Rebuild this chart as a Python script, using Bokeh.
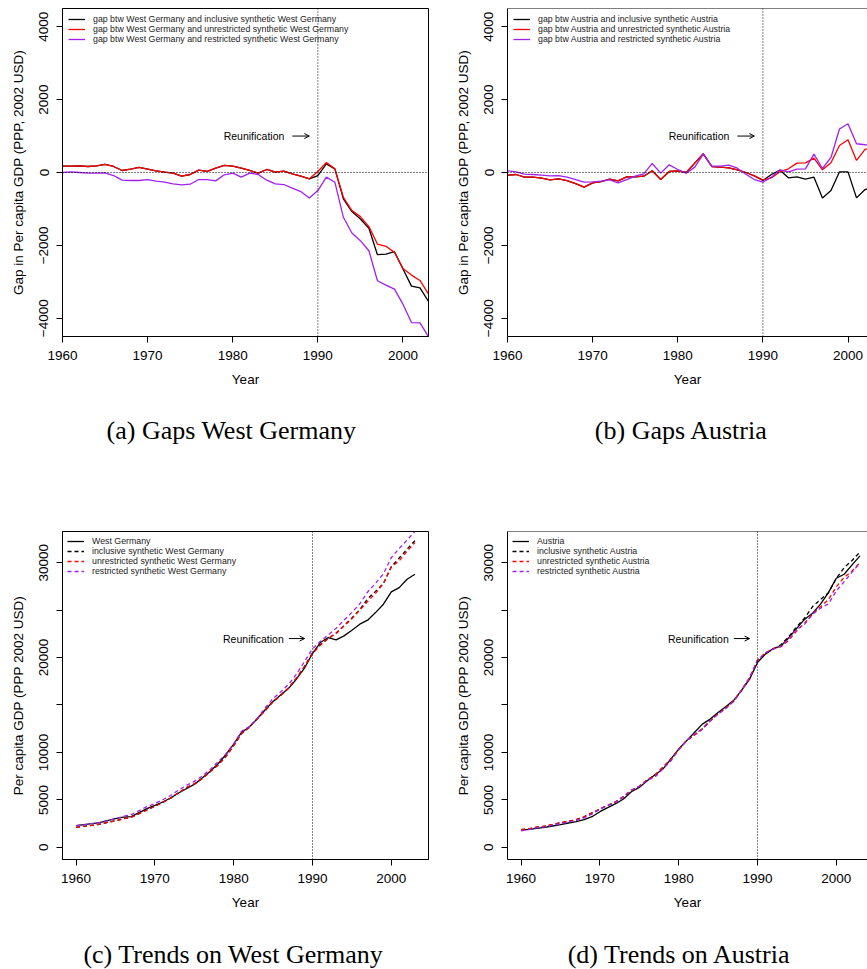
import math
from bokeh.plotting import figure
from bokeh.models import Range1d, FixedTicker, Span, Label, Arrow, OpenHead, Legend, LegendItem
from bokeh.layouts import row, column
from bokeh.embed import file_html
from bokeh.resources import INLINE

years = list(range(1960, 2004))

# ---- gaps, West Germany ----
wg_gap_inclusive = [174, 174, 183, 165, 183, 220, 165, 55, 92, 138,
                    92, 46, 9, -20, -100, -55, 64, 28, 119, 193,
                    174, 119, 55, -18, 83, 9, 37, -37, -100, -174,
                    -83, 238, 100, -724, -1073, -1275, -1531, -2256, -2237, -2173,
                    -2650, -3118, -3164, -3540]
wg_gap_unrestricted = [174, 174, 183, 165, 183, 220, 165, 55, 92, 138,
                       92, 46, 9, -20, -100, -55, 64, 28, 119, 193,
                       174, 119, 55, -18, 83, 9, 37, -37, -100, -174,
                       28, 275, 100, -679, -1045, -1211, -1485, -1962, -2026, -2192,
                       -2632, -2815, -2962, -3338]
wg_gap_restricted = [0, 18, 0, -18, -18, -9, -83, -211, -220, -220,
                     -193, -238, -266, -312, -339, -321, -193, -193, -229, -64,
                     -18, -128, -18, -55, -211, -312, -330, -431, -523, -697,
                     -495, -128, -266, -1229, -1660, -1871, -2146, -2971, -3090, -3200,
                     -3613, -4118, -4127, -4508]

# ---- gaps, Austria ----
at_gap_inclusive = [-73, -55, -128, -128, -156, -202, -174, -220, -303, -403,
                    -284, -248, -183, -229, -119, -119, -101, 46, -193, 28,
                    46, 0, 257, 514, 165, 147, 128, 73, 0, -92,
                    -220, -55, 64, -147, -119, -183, -128, -697, -495, 18,
                    18, -697, -468, -400]
at_gap_unrestricted = [-73, -55, -128, -128, -156, -202, -174, -220, -303, -403,
                       -284, -248, -183, -229, -119, -119, -101, 46, -193, 28,
                       46, 0, 257, 514, 165, 147, 128, 73, 0, -92,
                       -202, -147, 18, 101, 257, 266, 394, 73, 266, 743,
                       899, 330, 633, 700]
at_gap_restricted = [46, 18, -46, -55, -73, -92, -83, -128, -193, -266,
                     -257, -238, -202, -284, -193, -101, -37, 248, -18, 211,
                     83, -18, 147, 504, 174, 174, 202, 119, -46, -193,
                     -266, -128, 73, 18, 92, 101, 504, 110, 413, 1192,
                     1339, 789, 761, 750]

# ---- trends, West Germany ----
wg_actual = [2284, 2390, 2495, 2600, 2810, 3021, 3180, 3231, 3652, 4073,
             4421, 4778, 5200, 5726, 6179, 6632, 7305, 8000, 8779, 9758,
             10884, 12105, 12705, 13547, 14494, 15368, 16074, 16779, 17768, 18900,
             20421, 21579, 22105, 21863, 22284, 22884, 23516, 23937, 24737, 25621,
             26916, 27368, 28253, 28779]
wg_synth_inclusive = [2110, 2216, 2312, 2435, 2627, 2801, 3015, 3176, 3560, 3935,
                      4329, 4732, 5191, 5746, 6279, 6687, 7241, 7972, 8660, 9565,
                      10710, 11986, 12650, 13565, 14411, 15359, 16037, 16816, 17868, 19074,
                      20504, 21341, 22005, 22587, 23357, 24159, 25047, 26193, 26974, 27794,
                      29566, 30486, 31417, 32319]
wg_synth_unrestricted = [2110, 2216, 2312, 2435, 2627, 2801, 3015, 3176, 3560, 3935,
                         4329, 4732, 5191, 5746, 6279, 6687, 7241, 7972, 8660, 9565,
                         10710, 11986, 12650, 13565, 14411, 15359, 16037, 16816, 17868, 19074,
                         20393, 21304, 22005, 22542, 23329, 24095, 25001, 25899, 26763, 27813,
                         29548, 30183, 31215, 32117]
wg_synth_restricted = [2284, 2372, 2495, 2618, 2828, 3030, 3263, 3442, 3872, 4293,
                       4614, 5016, 5466, 6038, 6518, 6953, 7498, 8193, 9008, 9822,
                       10902, 12233, 12723, 13602, 14705, 15680, 16404, 17210, 18291, 19597,
                       20916, 21707, 22371, 23092, 23944, 24755, 25662, 26908, 27827, 28821,
                       30529, 31486, 32380, 33287]

# ---- trends, Austria ----
at_actual = [1790, 1895, 2000, 2105, 2250, 2390, 2565, 2705, 2916, 3231,
             3758, 4179, 4600, 5091, 5863, 6316, 7021, 7652, 8248, 9301,
             10354, 11231, 12105, 12984, 13512, 14210, 14842, 15510, 16568, 17726,
             19474, 20358, 20947, 21231, 22105, 23094, 24042, 24674, 25621, 26842,
             28358, 28779, 29758, 30705]
at_synth_inclusive = [1863, 1950, 2128, 2233, 2406, 2592, 2739, 2925, 3219, 3634,
                      4042, 4427, 4783, 5320, 5982, 6435, 7122, 7606, 8441, 9273,
                      10308, 11231, 11848, 12470, 13347, 14063, 14714, 15437, 16568, 17818,
                      19694, 20413, 20883, 21378, 22224, 23277, 24170, 25371, 26116, 26824,
                      28340, 29476, 30226, 31105]
at_synth_unrestricted = [1863, 1950, 2128, 2233, 2406, 2592, 2739, 2925, 3219, 3634,
                         4042, 4427, 4783, 5320, 5982, 6435, 7122, 7606, 8441, 9273,
                         10308, 11231, 11848, 12470, 13347, 14063, 14714, 15437, 16568, 17818,
                         19676, 20505, 20929, 21130, 21848, 22828, 23648, 24601, 25355, 26099,
                         27459, 28449, 29125, 30005]
at_synth_restricted = [1744, 1877, 2046, 2160, 2323, 2482, 2648, 2833, 3109, 3497,
                       4015, 4417, 4802, 5375, 6056, 6417, 7058, 7404, 8266, 9090,
                       10271, 11249, 11958, 12480, 13338, 14036, 14640, 15391, 16614, 17919,
                       19740, 20486, 20874, 21213, 22013, 22993, 23538, 24564, 25208, 25650,
                       27019, 27990, 28997, 29955]

x_ticks = [1960, 1970, 1980, 1990, 2000]
gap_ticks = [-4000, -2000, 0, 2000, 4000]
gap_tick_labels = {-4000: "\u22124000", -2000: "\u22122000", 0: "0", 2000: "2000", 4000: "4000"}
trend_ticks = [0, 5000, 10000, 15000, 20000, 25000, 30000]
trend_tick_labels = {0: "0", 5000: "5000", 10000: "10000", 15000: "", 20000: "20000",
                     25000: "", 30000: "30000"}

captions = ["(a) Gaps West Germany", "(b) Gaps Austria",
            "(c) Trends on West Germany", "(d) Trends on Austria"]

SANS = "Liberation Sans"
SERIF = "Liberation Serif"
PURPLE = "#A020F0"
TXT = "13.5px"


def base_fig(width, height, xr, yr, right, ylabel, yticks, ylabels, boxed):
    p = figure(width=width, height=height, x_range=Range1d(*xr), y_range=Range1d(*yr),
               output_backend="svg", toolbar_location=None, title=None,
               min_border_left=62, min_border_right=right,
               min_border_top=8, min_border_bottom=60)
    p.grid.visible = False
    p.background_fill_color = "white"
    p.border_fill_color = "white"
    if boxed:
        p.outline_line_color = "black"
        p.outline_line_width = 1
        p.outline_line_alpha = 1
    else:
        p.outline_line_color = None
        p.add_layout(Span(location=yr[1], dimension="width", line_color="black", line_width=1))
    for ax in (p.xaxis[0], p.yaxis[0]):
        ax.major_tick_in = 0
        ax.major_tick_out = 6
        ax.minor_tick_line_color = None
        ax.axis_line_color = "black"
        ax.axis_line_width = 1
        ax.major_tick_line_color = "black"
        ax.major_label_text_font = SANS
        ax.major_label_text_font_size = TXT
        ax.major_label_text_color = "black"
        ax.axis_label_text_font = SANS
        ax.axis_label_text_font_size = TXT
        ax.axis_label_text_font_style = "normal"
        ax.axis_label_text_color = "black"
    p.xaxis.ticker = FixedTicker(ticks=x_ticks)
    p.xaxis.major_label_standoff = 8
    p.xaxis.axis_label = "Year"
    p.xaxis.axis_label_standoff = 9
    p.yaxis.ticker = FixedTicker(ticks=yticks)
    p.yaxis.major_label_overrides = ylabels
    p.yaxis.major_label_orientation = "parallel"
    p.yaxis.major_label_standoff = 8
    p.yaxis.axis_label = ylabel
    p.yaxis.axis_label_standoff = 11
    return p


def add_common(p, text_y):
    p.add_layout(Span(location=1990, dimension="height", line_color="black",
                      line_width=1, line_dash="1 2"))
    p.add_layout(Label(x=1982.5, y=text_y, text="Reunification", text_align="center",
                       text_baseline="middle", text_font=SANS, text_font_size="10.5px",
                       text_color="black"))
    p.add_layout(Arrow(x_start=1987, y_start=text_y, x_end=1989, y_end=text_y,
                       line_color="black", line_width=1,
                       end=OpenHead(size=5, line_color="black", line_width=1)))


def add_legend(p, items, pad, margin):
    leg = Legend(items=items, location="top_left")
    leg.border_line_color = None
    leg.background_fill_alpha = 0
    leg.label_text_font = SANS
    leg.label_text_font_size = "8.8px"
    leg.label_text_color = "#222222"
    leg.glyph_width = 17
    leg.glyph_height = 10
    leg.label_height = 10
    leg.label_standoff = 8
    leg.spacing = 0
    leg.padding = pad
    leg.margin = margin
    p.add_layout(leg)


def caption_fig(width, height, text, cx, base_y):
    p = figure(width=width, height=height, x_range=Range1d(0, 1), y_range=Range1d(0, 1),
               output_backend="svg", toolbar_location=None, title=None,
               x_axis_location=None, y_axis_location=None,
               min_border_left=0, min_border_right=0, min_border_top=0, min_border_bottom=0)
    p.grid.visible = False
    p.outline_line_color = None
    p.background_fill_color = "white"
    p.border_fill_color = "white"
    p.add_layout(Label(x=cx, y=base_y, x_units="screen", y_units="screen", text=text,
                       text_align="center", text_baseline="alphabetic",
                       text_font=SERIF, text_font_size="26px", text_color="black"))
    return p


def gap_panel(width, right, boxed, xr, inc, unr, res, name):
    p = base_fig(width, 396, xr, (-4500, 4500), right,
                 "Gap in Per capita GDP (PPP, 2002 USD)", gap_ticks, gap_tick_labels, boxed)
    p.add_layout(Span(location=0, dimension="width", line_color="black",
                      line_width=1, line_dash="1 2"))
    r1 = p.line(years, inc, line_color="black", line_width=1.3)
    r2 = p.line(years, unr, line_color="red", line_width=1.3)
    r3 = p.line(years, res, line_color=PURPLE, line_width=1.3)
    add_legend(p, [
        LegendItem(label="gap btw %s and inclusive synthetic %s" % (name, name), renderers=[r1]),
        LegendItem(label="gap btw %s and unrestricted synthetic %s" % (name, name), renderers=[r2]),
        LegendItem(label="gap btw %s and restricted synthetic %s" % (name, name), renderers=[r3]),
    ], 6, 6)
    add_common(p, 1000)
    return p


def trend_panel(width, right, boxed, xr, act, inc, unr, res, name):
    p = base_fig(width, 396, xr, (-1280, 33280), right,
                 "Per capita GDP (PPP 2002 USD)", trend_ticks, trend_tick_labels, boxed)
    r0 = p.line(years, act, line_color="black", line_width=1.3)
    r1 = p.line(years, inc, line_color="black", line_width=1.3, line_dash="4 3")
    r2 = p.line(years, unr, line_color="red", line_width=1.3, line_dash="4 3")
    r3 = p.line(years, res, line_color=PURPLE, line_width=1.3, line_dash="4 3")
    add_legend(p, [
        LegendItem(label=name, renderers=[r0]),
        LegendItem(label="inclusive synthetic %s" % name, renderers=[r1]),
        LegendItem(label="unrestricted synthetic %s" % name, renderers=[r2]),
        LegendItem(label="restricted synthetic %s" % name, renderers=[r3]),
    ], 5, 5)
    add_common(p, 22000)
    return p


pa = gap_panel(445, 17, True, (1960, 2003), wg_gap_inclusive, wg_gap_unrestricted,
               wg_gap_restricted, "West Germany")
pb = gap_panel(422, 0, False, (1960, 2002.29), at_gap_inclusive, at_gap_unrestricted,
               at_gap_restricted, "Austria")
pc = trend_panel(445, 17, True, (1958.28, 2004.72), wg_actual, wg_synth_inclusive,
                 wg_synth_unrestricted, wg_synth_restricted, "West Germany")
pd = trend_panel(422, 0, False, (1958.28, 2003.96), at_actual, at_synth_inclusive,
                 at_synth_unrestricted, at_synth_restricted, "Austria")

ca = caption_fig(445, 127, captions[0], 231, 92.7)
cb = caption_fig(422, 127, captions[1], 236, 92.7)
cc = caption_fig(445, 50, captions[2], 233, 15.4)
cd = caption_fig(422, 50, captions[3], 234, 15.4)

layout = column(row(pa, pb), row(ca, cb), row(pc, pd), row(cc, cd))
open("out.html", "w").write(file_html(layout, INLINE))
